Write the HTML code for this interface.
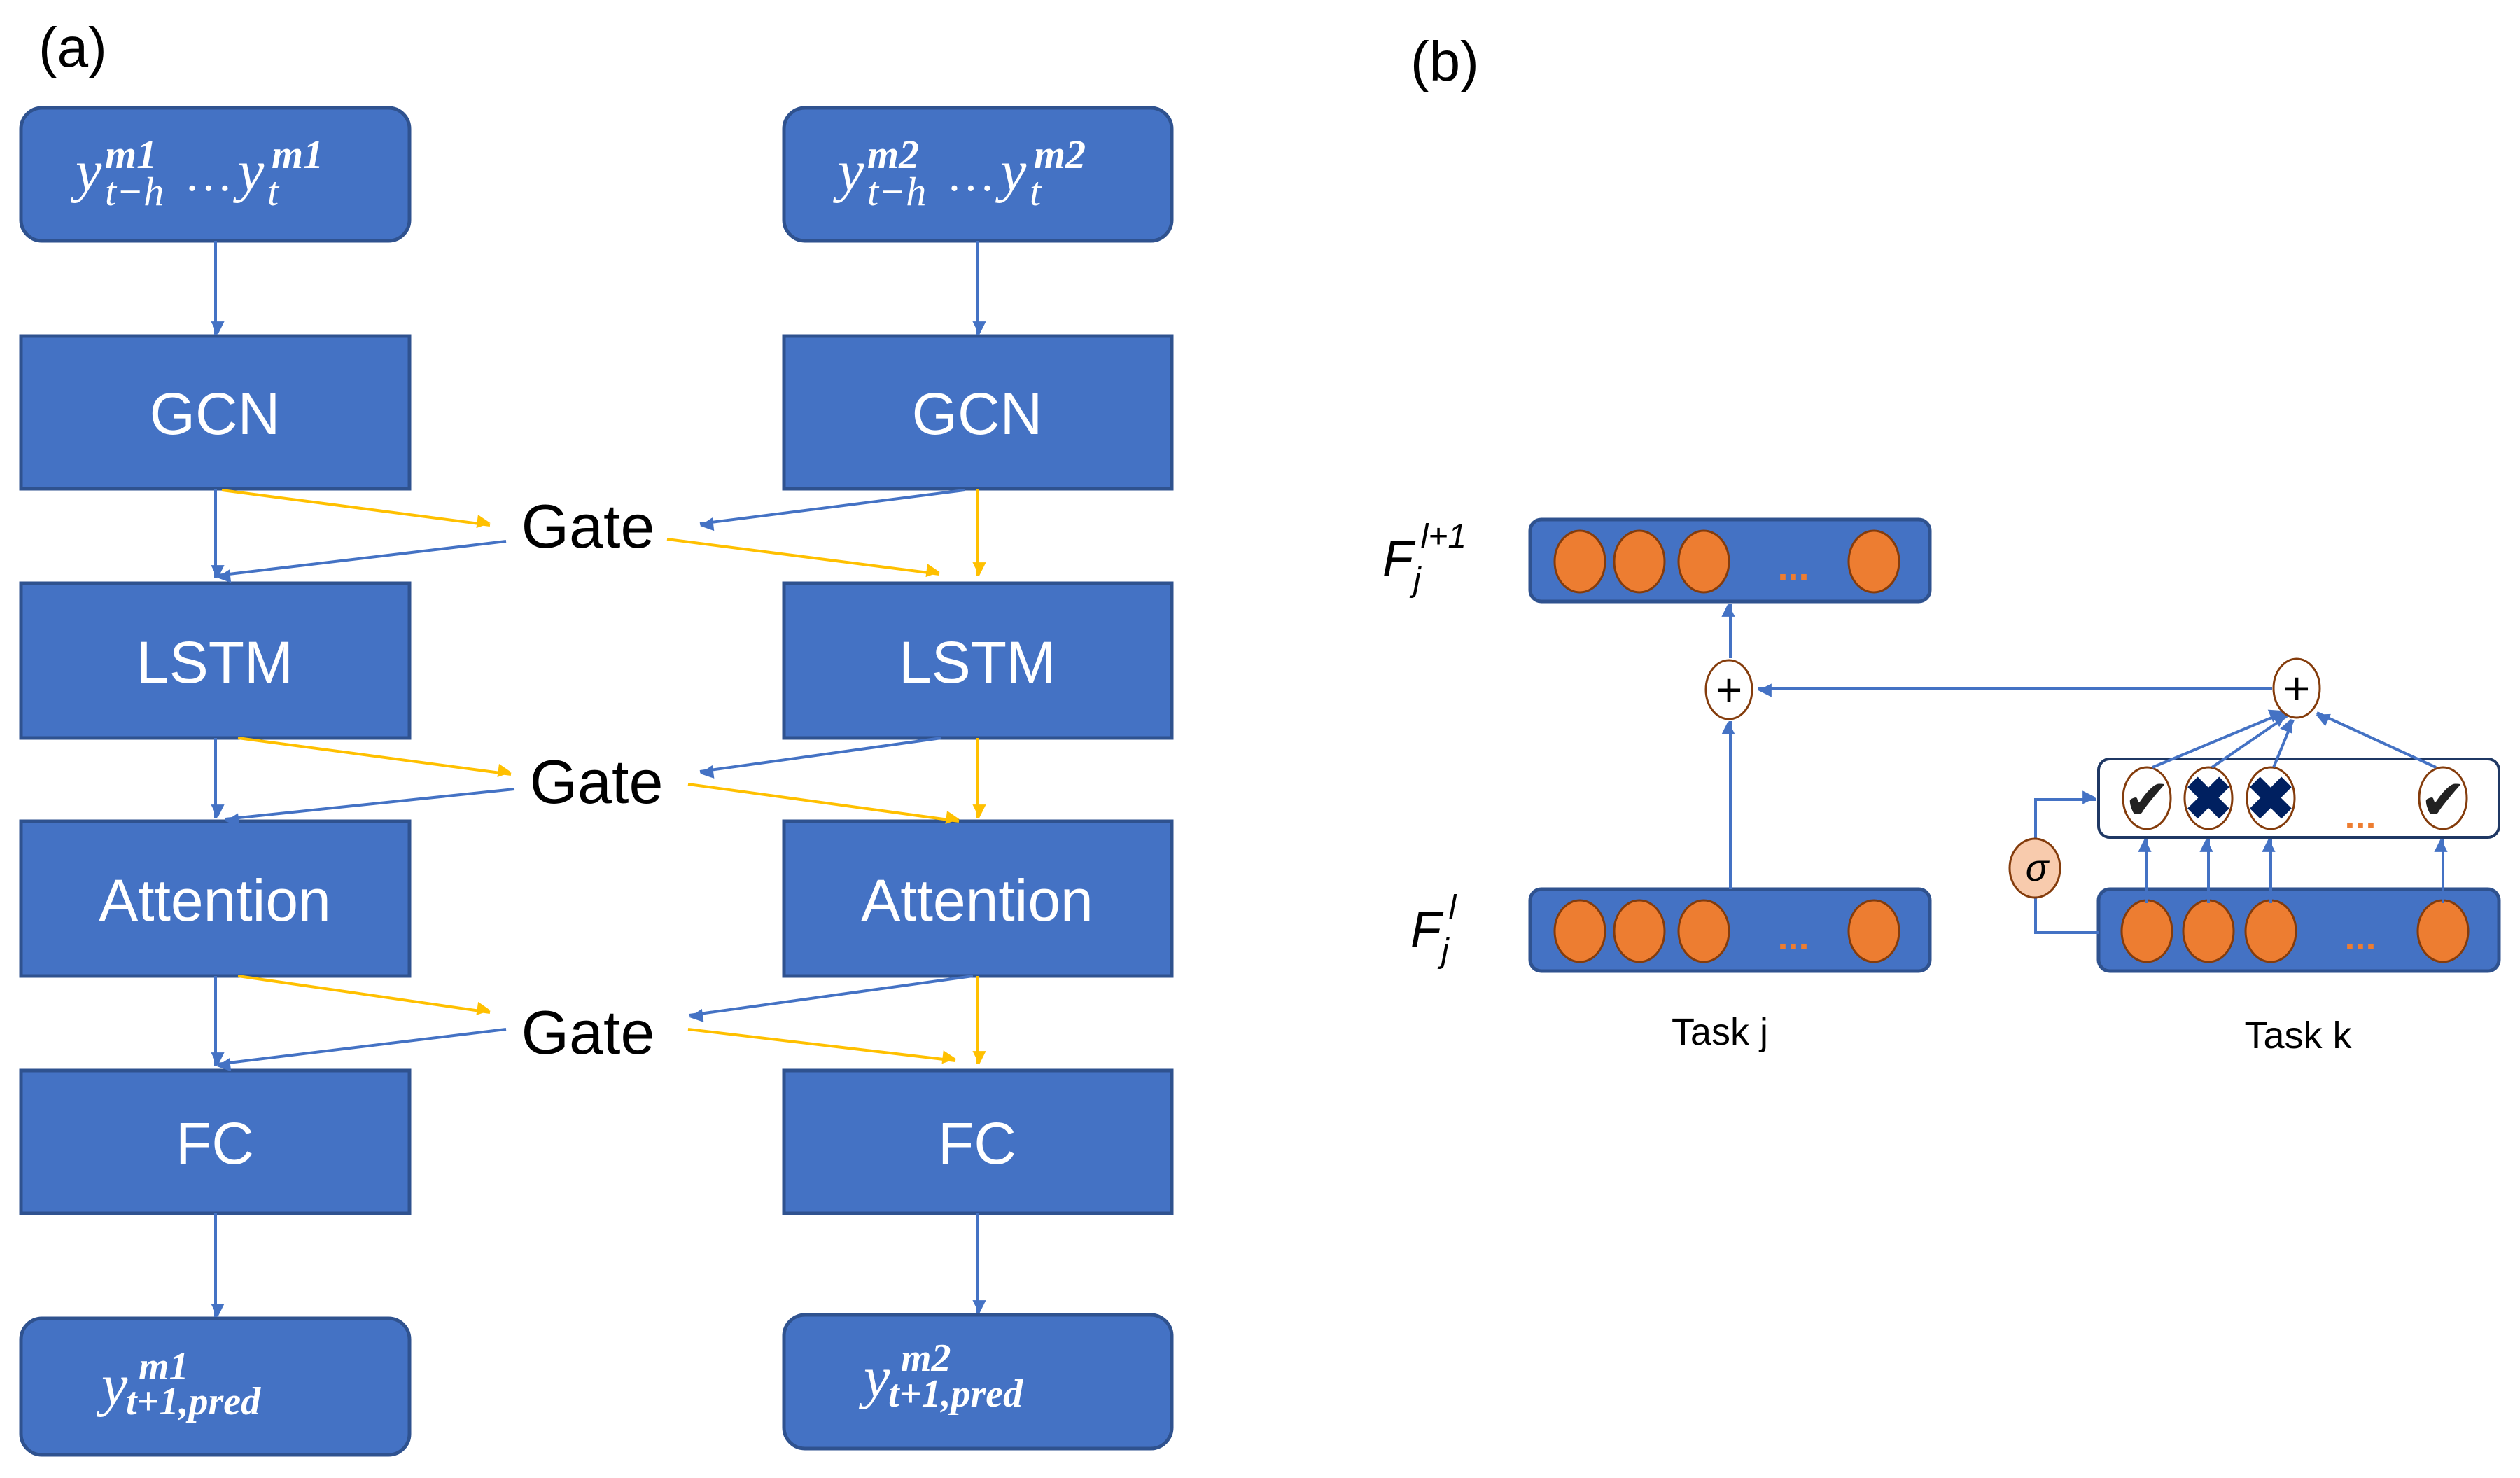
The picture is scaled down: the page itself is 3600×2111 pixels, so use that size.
<!DOCTYPE html>
<html><head><meta charset="utf-8"><style>
html,body{margin:0;padding:0;background:#fff;}
svg{display:block;}
text{font-family:"Liberation Sans",sans-serif;}
.m{font-family:"Liberation Serif",serif;font-style:italic;fill:#fff;}
.w{fill:#fff;font-size:84px;text-anchor:middle;}
.g{fill:#000;font-size:88px;text-anchor:middle;}
</style></head><body>
<svg width="3600" height="2111" viewBox="0 0 3600 2111" xmlns="http://www.w3.org/2000/svg">
<defs>
<marker id="ab" viewBox="0 0 10 10" refX="9" refY="5" markerWidth="6" markerHeight="6" orient="auto" markerUnits="userSpaceOnUse" style="overflow:visible">
<path d="M0,0 L10,5 L0,10 z" fill="#4472C4" transform="scale(3.2) translate(-7,-5)"/></marker>
<marker id="ay" viewBox="0 0 10 10" refX="9" refY="5" markerWidth="6" markerHeight="6" orient="auto" markerUnits="userSpaceOnUse" style="overflow:visible">
<path d="M0,0 L10,5 L0,10 z" fill="#FFC000" transform="scale(3.2) translate(-7,-5)"/></marker>
</defs>
<style>
.b{stroke:#4472C4;stroke-width:4;fill:none;marker-end:url(#ab);}
.y{stroke:#FFC000;stroke-width:4;fill:none;marker-end:url(#ay);}
.bx{fill:#4472C4;stroke:#2F528F;stroke-width:5;}
.o{fill:#ED7D31;stroke:#843C0C;stroke-width:3;}
</style>
<text x="55" y="95" font-size="80">(a)</text>
<text x="2015" y="115" font-size="80">(b)</text>

<rect class="bx" x="30" y="154" width="555" height="190" rx="30"/>
<rect class="bx" x="1120" y="154" width="554" height="190" rx="30"/>
<g class="m">
<text x="108" y="272" font-size="84" class="m">y</text>
<text x="150" y="240" font-size="58" font-weight="bold" class="m">m1</text>
<text x="150" y="293" font-size="58" class="m">t−h</text>
<text x="268" y="272" font-size="70" class="m">…</text>
<text x="340" y="272" font-size="84" class="m">y</text>
<text x="388" y="240" font-size="58" font-weight="bold" class="m">m1</text>
<text x="382" y="293" font-size="58" class="m">t</text>

<text x="1197" y="272" font-size="84" class="m">y</text>
<text x="1239" y="240" font-size="58" font-weight="bold" class="m">m2</text>
<text x="1239" y="293" font-size="58" class="m">t−h</text>
<text x="1357" y="272" font-size="70" class="m">…</text>
<text x="1429" y="272" font-size="84" class="m">y</text>
<text x="1477" y="240" font-size="58" font-weight="bold" class="m">m2</text>
<text x="1471" y="293" font-size="58" class="m">t</text>
</g>

<rect class="bx" x="30" y="480" width="555" height="218"/>
<rect class="bx" x="1120" y="480" width="554" height="218"/>
<text class="w" x="307" y="620">GCN</text><text class="w" x="1396" y="620">GCN</text>
<rect class="bx" x="30" y="833" width="555" height="221"/>
<rect class="bx" x="1120" y="833" width="554" height="221"/>
<text class="w" x="307" y="975">LSTM</text><text class="w" x="1396" y="975">LSTM</text>
<rect class="bx" x="30" y="1173" width="555" height="221"/>
<rect class="bx" x="1120" y="1173" width="554" height="221"/>
<text class="w" x="307" y="1315">Attention</text><text class="w" x="1396" y="1315">Attention</text>
<rect class="bx" x="30" y="1529" width="555" height="204"/>
<rect class="bx" x="1120" y="1529" width="554" height="204"/>
<text class="w" x="307" y="1662">FC</text><text class="w" x="1396" y="1662">FC</text>
<rect class="bx" x="30" y="1883" width="555" height="195" rx="30"/>
<rect class="bx" x="1120" y="1878" width="554" height="191" rx="30"/>
<text class="m" x="145" y="2006" font-size="84">y</text>
<text class="m" x="180" y="2020" font-size="56" font-weight="bold">t+1,pred</text>
<text class="m" x="198" y="1970" font-size="56" font-weight="bold">m1</text>
<text class="m" x="1234" y="1995" font-size="84">y</text>
<text class="m" x="1269" y="2009" font-size="56" font-weight="bold">t+1,pred</text>
<text class="m" x="1287" y="1958" font-size="56" font-weight="bold">m2</text>

<line class="b" x1="308" y1="344" x2="308" y2="478"/>
<line class="b" x1="1396" y1="344" x2="1396" y2="478"/>
<line class="b" x1="308" y1="698" x2="308" y2="826"/>
<line class="y" x1="1396" y1="698" x2="1396" y2="822"/>
<line class="b" x1="308" y1="1054" x2="308" y2="1168"/>
<line class="y" x1="1396" y1="1054" x2="1396" y2="1168"/>
<line class="b" x1="308" y1="1394" x2="308" y2="1522"/>
<line class="y" x1="1396" y1="1394" x2="1396" y2="1520"/>
<line class="b" x1="308" y1="1733" x2="308" y2="1881"/>
<line class="b" x1="1396" y1="1733" x2="1396" y2="1876"/>

<text class="g" x="840" y="782">Gate</text>
<line class="y" x1="317" y1="700" x2="700" y2="750"/>
<line class="b" x1="1378" y1="700" x2="1000" y2="748"/>
<line class="b" x1="723" y1="773" x2="310" y2="822"/>
<line class="y" x1="953" y1="770" x2="1342" y2="820"/>

<text class="g" x="852" y="1147">Gate</text>
<line class="y" x1="340" y1="1054" x2="730" y2="1106"/>
<line class="b" x1="1345" y1="1054" x2="1000" y2="1102"/>
<line class="b" x1="735" y1="1127" x2="322" y2="1170"/>
<line class="y" x1="983" y1="1120" x2="1370" y2="1173"/>

<text class="g" x="840" y="1505">Gate</text>
<line class="y" x1="340" y1="1394" x2="700" y2="1446"/>
<line class="b" x1="1390" y1="1394" x2="985" y2="1450"/>
<line class="b" x1="723" y1="1470" x2="310" y2="1520"/>
<line class="y" x1="983" y1="1470" x2="1365" y2="1515"/>

<text x="1975" y="822" font-family="Liberation Serif" font-style="italic" font-size="72">F<tspan font-size="48" dy="22">j</tspan><tspan font-size="48" dy="-62">l+1</tspan></text>
<text x="2015" y="1352" font-family="Liberation Serif" font-style="italic" font-size="72">F<tspan font-size="48" dy="22">j</tspan><tspan font-size="48" dy="-62">l</tspan></text>

<g>
<rect class="bx" x="2186" y="742" width="571" height="117" rx="16" stroke="#1F3864"/>
<ellipse class="o" cx="2257" cy="802" rx="36" ry="44"/><ellipse class="o" cx="2342" cy="802" rx="36" ry="44"/><ellipse class="o" cx="2434" cy="802" rx="36" ry="44"/><ellipse class="o" cx="2677" cy="802" rx="36" ry="44"/>
<text x="2562" y="828" fill="#ED7D31" font-size="54" font-weight="bold" text-anchor="middle">...</text>

<rect class="bx" x="2186" y="1270" width="571" height="117" rx="16" stroke="#1F3864"/>
<ellipse class="o" cx="2257" cy="1330" rx="36" ry="44"/><ellipse class="o" cx="2342" cy="1330" rx="36" ry="44"/><ellipse class="o" cx="2434" cy="1330" rx="36" ry="44"/><ellipse class="o" cx="2677" cy="1330" rx="36" ry="44"/>
<text x="2562" y="1356" fill="#ED7D31" font-size="54" font-weight="bold" text-anchor="middle">...</text>

<rect class="bx" x="2998" y="1270" width="572" height="117" rx="16" stroke="#1F3864"/>
<ellipse class="o" cx="3067" cy="1330" rx="36" ry="44"/><ellipse class="o" cx="3155" cy="1330" rx="36" ry="44"/><ellipse class="o" cx="3244" cy="1330" rx="36" ry="44"/><ellipse class="o" cx="3490" cy="1330" rx="36" ry="44"/>
<text x="3372" y="1356" fill="#ED7D31" font-size="54" font-weight="bold" text-anchor="middle">...</text>

<rect x="2998" y="1084" width="572" height="112" rx="16" fill="#fff" stroke="#1F3864" stroke-width="4"/>
<g fill="#fff" stroke="#843C0C" stroke-width="3">
<ellipse cx="3067" cy="1140" rx="34" ry="44"/><ellipse cx="3155" cy="1140" rx="34" ry="44"/><ellipse cx="3244" cy="1140" rx="34" ry="44"/><ellipse cx="3490" cy="1140" rx="34" ry="44"/></g>
<text x="3067" y="1170" font-family="DejaVu Sans" font-size="80" text-anchor="middle" fill="#222">✔</text>
<text x="3490" y="1170" font-family="DejaVu Sans" font-size="80" text-anchor="middle" fill="#222">✔</text>
<text x="3155" y="1170" font-family="DejaVu Sans" font-size="84" font-weight="bold" text-anchor="middle" fill="#002060">✖</text>
<text x="3244" y="1170" font-family="DejaVu Sans" font-size="84" font-weight="bold" text-anchor="middle" fill="#002060">✖</text>
<text x="3372" y="1183" fill="#ED7D31" font-size="54" font-weight="bold" text-anchor="middle">...</text>

<line class="b" x1="2472" y1="1270" x2="2472" y2="1030"/>
<line class="b" x1="2472" y1="940" x2="2472" y2="862"/>
<line class="b" x1="3246" y1="983" x2="2512" y2="983"/>
<line class="b" x1="3067" y1="1290" x2="3067" y2="1198"/>
<line class="b" x1="3155" y1="1290" x2="3155" y2="1198"/>
<line class="b" x1="3244" y1="1290" x2="3244" y2="1198"/>
<line class="b" x1="3490" y1="1290" x2="3490" y2="1198"/>
<line class="b" x1="3075" y1="1096" x2="3262" y2="1018"/>
<line class="b" x1="3160" y1="1096" x2="3268" y2="1022"/>
<line class="b" x1="3248" y1="1096" x2="3276" y2="1028"/>
<line class="b" x1="3480" y1="1096" x2="3310" y2="1018"/>
<polyline points="2998,1332 2908,1332 2908,1282" fill="none" stroke="#4472C4" stroke-width="4"/>
<polyline class="b" points="2908,1200 2908,1142 2994,1142"/>
<ellipse cx="2907" cy="1240" rx="36" ry="42" fill="#F8CBAD" stroke="#843C0C" stroke-width="3"/>
<text x="2910" y="1258" font-family="Liberation Serif" font-style="italic" font-size="54" text-anchor="middle">σ</text>

<ellipse cx="2470" cy="985" rx="33" ry="42" fill="#fff" stroke="#843C0C" stroke-width="3"/>
<text x="2470" y="1008" font-family="DejaVu Sans" font-size="66" text-anchor="middle">+</text>
<ellipse cx="3281" cy="983" rx="33" ry="42" fill="#fff" stroke="#843C0C" stroke-width="3"/>
<text x="3281" y="1006" font-family="DejaVu Sans" font-size="66" text-anchor="middle">+</text>

<text x="2457" y="1492" font-size="54" text-anchor="middle">Task j</text>
<text x="3283" y="1497" font-size="54" text-anchor="middle">Task k</text>
</g>
</svg>
</body></html>
